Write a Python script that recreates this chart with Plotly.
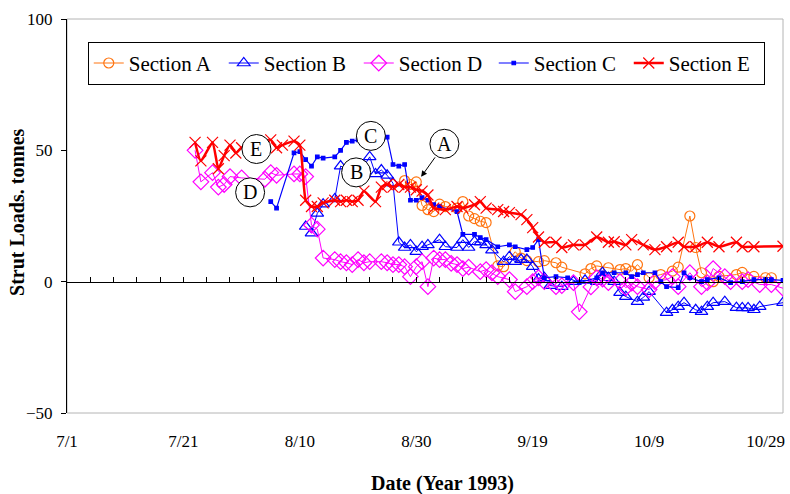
import pandas as pd
import plotly.graph_objects as go

YEAR = 1993
SERIF = "Liberation Serif, Times New Roman, serif"

# ---- strut load readings (tonnes) by date ----
dates_A = ["8/28", "8/29", "8/30", "8/31", "9/1", "9/2", "9/3", "9/4", "9/6", "9/7",
           "9/8", "9/9", "9/10", "9/11", "9/13", "9/14", "9/16", "9/17", "9/18", "9/20",
           "9/21", "9/23", "9/24", "9/28", "9/29", "9/30", "10/2", "10/4", "10/5", "10/6",
           "10/7", "10/9", "10/11", "10/13", "10/14", "10/16", "10/17", "10/18", "10/20", "10/21",
           "10/24", "10/25", "10/27", "10/29", "10/30"]
load_A = [38.5, 37, 38, 29, 27.4, 26.7, 29.5, 28.6, 28, 30.5,
          25, 24, 23, 22.5, 6, 5.7, 11.4, 9, 8, 7.6,
          8, 7.2, 5.5, 3, 5, 6, 5.3, 4.6, 5, 4,
          6.5, 1.5, 2.7, 4, 5.5, 25, 13, 3.4, 0, 2,
          2.7, 3.5, 2, 1.5, 1.5]

dates_B = ["8/11", "8/12", "8/13", "8/14", "8/16", "8/17", "8/19", "8/21", "8/22", "8/23",
           "8/24", "8/25", "8/26", "8/27", "8/28", "8/29", "8/30", "8/31", "9/1", "9/3",
           "9/4", "9/6", "9/7", "9/8", "9/9", "9/10", "9/11", "9/12", "9/14", "9/15",
           "9/16", "9/17", "9/18", "9/19", "9/20", "9/21", "9/22", "9/24", "9/26", "9/28",
           "9/30", "10/1", "10/2", "10/3", "10/4", "10/5", "10/7", "10/8", "10/9", "10/12",
           "10/13", "10/14", "10/15", "10/17", "10/18", "10/19", "10/20", "10/22", "10/24", "10/25",
           "10/26", "10/27", "10/28", "11/1"]
load_B = [21, 18.5, 26, 29.5, 31.5, 44, 42, 44, 47.5, 41,
          42.5, 40.5, 37.5, 15, 13, 14, 11.4, 13.3, 14, 16,
          13.3, 13, 16, 13, 15.2, 15, 14, 12, 7.6, 9.5,
          7.6, 8.4, 8.4, 5.7, 1, 1.5, -1.5, -1.9, 0, 0.5,
          0, 3.4, 1.5, 0, -4.2, -5.7, -7.6, -6, -3.8, -11.8,
          -10.7, -9.5, -8, -10.7, -11.4, -9.5, -8, -7.6, -9.9, -10,
          -10, -10.7, -9.5, -8]

dates_D = ["7/23", "7/24", "7/26", "7/27", "7/28", "7/29", "7/31", "8/4", "8/5", "8/6",
           "8/9", "8/10", "8/11", "8/12", "8/13", "8/14", "8/16", "8/17", "8/18", "8/19",
           "8/20", "8/21", "8/22", "8/24", "8/25", "8/26", "8/27", "8/28", "8/29", "8/30",
           "8/31", "9/1", "9/2", "9/3", "9/4", "9/5", "9/6", "9/7", "9/8", "9/10",
           "9/11", "9/12", "9/13", "9/15", "9/16", "9/18", "9/19", "9/20", "9/21", "9/23",
           "9/24", "9/26", "9/27", "9/29", "9/30", "10/1", "10/2", "10/4", "10/5", "10/6",
           "10/7", "10/9", "10/10", "10/12", "10/13", "10/14", "10/16", "10/18", "10/19", "10/20",
           "10/22", "10/23", "10/25", "10/26", "10/28", "10/30", "11/1"]
load_D = [50, 38, 41.5, 36, 37, 40, 39.5, 39, 41.5, 40.5,
          41, 41, 40, 21.5, 20, 9, 8.4, 7.6, 7.2, 6.5,
          8.4, 7.2, 7.6, 7.6, 7.2, 6.5, 6.5, 5.7, 1.9, 5.7,
          7.6, -1.9, 9, 8.4, 8.4, 7, 6.5, 5, 5.5, 3.8,
          4.6, 3.4, 1.9, 0.8, -3.8, -1.9, 0, 1.5, 0, -1.9,
          -1.5, -0.4, -11.5, -2, 1.5, 1, -0.4, 0, -2.3, -0.5,
          -1.9, -3, 0, 0.8, 1.9, -1.9, 3.4, -1.9, -0.4, 5,
          1.9, 0, 0, 0.8, -1.1, -1.1, -2.5]

dates_C = ["8/5", "8/6", "8/9", "8/10", "8/11", "8/12", "8/13", "8/14", "8/16", "8/17",
           "8/18", "8/19", "8/20", "8/22", "8/25", "8/26", "8/27", "8/28", "8/29", "8/30",
           "8/31", "9/1", "9/2", "9/3", "9/6", "9/7", "9/9", "9/10", "9/11", "9/13",
           "9/15", "9/16", "9/18", "9/19", "9/20", "9/21", "9/23", "9/25", "9/27", "9/30",
           "10/1", "10/3", "10/5", "10/6", "10/7", "10/8", "10/10", "10/11", "10/12", "10/14",
           "10/15", "10/16", "10/18", "10/19", "10/21", "10/23", "10/25", "10/27", "10/29", "10/30",
           "11/1"]
load_C = [30.5, 28, 49, 49.5, 46.5, 44, 47.5, 47, 47.5, 50,
          53, 53.5, 54, 54, 55, 44.6, 44, 44.6, 31, 31,
          32, 31, 29.3, 28.6, 26.7, 18, 18, 16.8, 16, 13.3,
          14, 13.3, 12.2, 13, 16, 1.5, 1.9, 1.5, -0.4, 1.5,
          3.4, 3.4, 3.4, 1.9, 2.7, 3.4, 3.4, 0, -1.9, -2.3,
          3.4, 1.5, 0, 0.8, 1.5, -0.4, 0, 0.8, 0.8, 0.8,
          0.5]

dates_E = ["7/23", "7/24", "7/26", "7/27", "7/28", "7/29", "7/30", "7/31", "8/2", "8/3",
           "8/5", "8/6", "8/7", "8/9", "8/10", "8/11", "8/12", "8/13", "8/14", "8/16",
           "8/17", "8/18", "8/19", "8/20", "8/21", "8/23", "8/24", "8/25", "8/26", "8/27",
           "8/28", "8/29", "8/30", "8/31", "9/1", "9/2", "9/4", "9/6", "9/7", "9/9",
           "9/10", "9/11", "9/13", "9/14", "9/15", "9/17", "9/18", "9/19", "9/20", "9/21",
           "9/23", "9/24", "9/26", "9/28", "9/30", "10/2", "10/3", "10/5", "10/6", "10/8",
           "10/10", "10/12", "10/14", "10/15", "10/17", "10/19", "10/21", "10/24", "10/25", "10/27",
           "11/1"]
load_E = [53, 46, 53, 43, 48, 52, 49, 51, 52, 53,
          54, 51, 52, 53.5, 52, 31, 28.6, 28.6, 30, 31,
          30.5, 31, 30.5, 31, 34.5, 30.5, 36, 37, 36, 37,
          36, 36, 35, 34.5, 33, 28, 27.4, 28.6, 28, 29.3,
          30.5, 28, 27.4, 26.7, 26.3, 25.5, 23.6, 20.6, 17, 15,
          15, 13, 14, 14, 17, 15, 15.2, 14, 16, 14,
          12.2, 13.3, 15, 13.3, 13.3, 15, 13.3, 15, 13.3, 13.3,
          13.5]

# axis labelling
x_tick_labels = ["7/1", "7/21", "8/10", "8/30", "9/19", "10/9", "10/29"]
y_tick_values = [-50, 0, 50, 100]


def to_dates(days):
    return pd.to_datetime([f"{YEAR}/{d}" for d in days], format="%Y/%m/%d")


fig = go.Figure()

series = [
    dict(name="Section A", x=dates_A, y=load_A, color="#FF7410",
         symbol="circle-open", size=10, lw=1, shape="linear"),
    dict(name="Section B", x=dates_B, y=load_B, color="#0000FF",
         symbol="triangle-up-open", size=11, lw=1, shape="linear"),
    dict(name="Section D", x=dates_D, y=load_D, color="#FF00FF",
         symbol="diamond-open", size=12, lw=1, shape="linear"),
    dict(name="Section C", x=dates_C, y=load_C, color="#0000FF",
         symbol="square", size=3.5, lw=1.2, shape="linear"),
    dict(name="Section E", x=dates_E, y=load_E, color="#FF0000",
         symbol="x-thin", size=11, lw=2.5, shape="spline"),
]

for s in series:
    fig.add_trace(go.Scatter(
        x=to_dates(s["x"]), y=s["y"], name=s["name"], mode="lines+markers",
        line=dict(color=s["color"], width=s["lw"], shape=s["shape"], smoothing=0.5),
        marker=dict(symbol=s["symbol"], size=s["size"], color=s["color"],
                    line=dict(color=s["color"], width=1.2)),
    ))

# empty trace that carries the zero-crossing date axis
fig.add_trace(go.Scatter(x=[], y=[], xaxis="x2", showlegend=False, hoverinfo="skip"))

x_start = pd.Timestamp(f"{YEAR}-07-01")
x_end = pd.Timestamp(f"{YEAR}-11-01")
day_ms = 86400000

fig.update_layout(
    width=790, height=494,
    margin=dict(l=67, r=5, t=19, b=81),
    plot_bgcolor="white", paper_bgcolor="white",
    font=dict(family=SERIF, color="black", size=17),
    xaxis=dict(
        type="date", range=[x_start, x_end],
        tickvals=to_dates(x_tick_labels), ticktext=x_tick_labels,
        ticks="", showline=False, showgrid=False, zeroline=False,
        tickfont=dict(family=SERIF, size=17, color="black"),
        ticklabelstandoff=16,
    ),
    xaxis2=dict(
        type="date", range=[x_start, x_end], overlaying="x", anchor="free",
        position=1 / 3, side="bottom",
        showline=True, linecolor="black", linewidth=1,
        ticks="inside", ticklen=5, tickwidth=1, tickcolor="black",
        tick0=x_start, dtick=4 * day_ms,
        showticklabels=False, showgrid=False, zeroline=False,
    ),
    yaxis=dict(
        range=[-50, 100], tickvals=y_tick_values,
        ticks="outside", ticklen=5, tickcolor="black",
        showline=True, linecolor="black", linewidth=1,
        showgrid=False, zeroline=False,
        tickfont=dict(family=SERIF, size=17, color="black"),
        ticklabelstandoff=5,
    ),
    legend=dict(
        orientation="h", x=0.029, y=0.942, xanchor="left", yanchor="top",
        bordercolor="black", borderwidth=1, bgcolor="white",
        font=dict(family=SERIF, size=21, color="black"),
        entrywidth=90, itemwidth=30,
    ),
    showlegend=True,
)

# plot frame
fig.add_shape(type="rect", xref="paper", yref="paper", x0=0, x1=1, y0=0, y1=1,
              line=dict(color="#b4b4b4", width=1), layer="below")

# circled section labels
labels = [
    ("E", f"{YEAR}-08-02 13:00", 50.5),
    ("D", f"{YEAR}-08-01 11:00", 34.0),
    ("B", f"{YEAR}-08-19 16:00", 41.6),
    ("C", f"{YEAR}-08-22 05:00", 55.5),
    ("A", f"{YEAR}-09-03 20:00", 52.5),
]
r = 14.5
for letter, xd, yv in labels:
    fig.add_shape(type="circle", xref="x", yref="y", xsizemode="pixel", ysizemode="pixel",
                  xanchor=xd, yanchor=yv, x0=-r, x1=r, y0=-r, y1=r,
                  line=dict(color="black", width=1), fillcolor="white", layer="above")
    fig.add_annotation(x=xd, y=yv, xref="x", yref="y", text=letter, showarrow=False,
                       font=dict(family=SERIF, size=20, color="black"))

# arrow from the A label to its curve
fig.add_annotation(x=f"{YEAR}-08-30 20:00", y=39.9, xref="x", yref="y", text="",
                   showarrow=True, ax=15, ay=-21, arrowhead=2, arrowsize=1.2,
                   arrowwidth=1, arrowcolor="black", standoff=0)

# axis titles
fig.add_annotation(x=0.524, y=-0.18, xref="paper", yref="paper",
                   text="<b>Date (Year 1993)</b>", showarrow=False,
                   xanchor="center", yanchor="middle",
                   font=dict(family=SERIF, size=20, color="black"))
fig.add_annotation(x=-0.07, y=0.51, xref="paper", yref="paper",
                   text="<b>Strut Loads. tonnes</b>", showarrow=False, textangle=-90,
                   xanchor="center", yanchor="middle",
                   font=dict(family=SERIF, size=20, color="black"))

fig.write_html("out.html")
